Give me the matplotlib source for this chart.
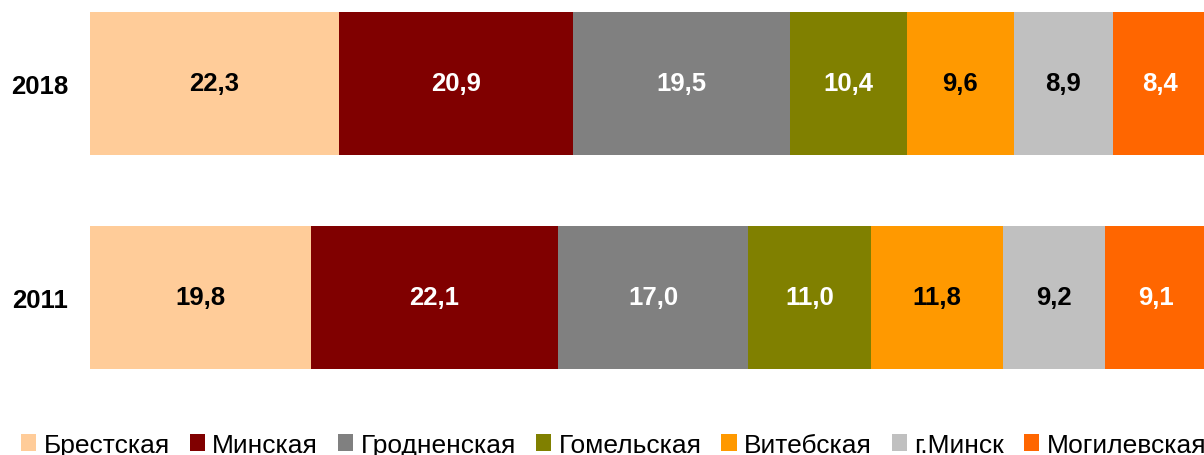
import matplotlib
matplotlib.use('Agg')
import matplotlib.pyplot as plt
import numpy as np

plt.rcParams['font.family'] = ['Liberation Sans', 'DejaVu Sans']

years = ['2011', '2018']
regions = ['Брестская', 'Минская', 'Гродненская', 'Гомельская',
           'Витебская', 'г.Минск', 'Могилевская']
v2011 = [19.8, 22.1, 17.0, 11.0, 11.8, 9.2, 9.1]
v2018 = [22.3, 20.9, 19.5, 10.4, 9.6, 8.9, 8.4]
colors = ['#FFCC99', '#800000', '#808080', '#808000',
          '#FF9900', '#C0C0C0', '#FF6600']
text_colors = ['black', 'white', 'white', 'white', 'black', 'black', 'white']

data = np.array([v2011, v2018])  # rows: years, cols: regions

fig = plt.figure(figsize=(12.04, 4.56), dpi=100)
W, H = 1204, 456
ax = fig.add_axes([90 / W, (H - 405.5) / H, 1117 / W, 428 / H])

y = np.arange(len(years))
left = np.zeros(len(years))
handles = []
for i, reg in enumerate(regions):
    vals = data[:, i]
    b = ax.barh(y, vals, left=left, height=0.668, color=colors[i], label=reg)
    handles.append(b)
    for j in range(len(years)):
        ax.text(left[j] + vals[j] / 2, y[j], f'{vals[j]:.1f}'.replace('.', ','),
                ha='center', va='center', fontsize=18.5, fontweight='bold',
                color=text_colors[i])
    left += vals

ax.set_xlim(0, 100)
ax.set_ylim(-0.5, 1.5)
ax.set_yticks(y)
ax.set_yticklabels(years, fontsize=18.5, fontweight='bold')
ax.tick_params(axis='y', length=0, pad=15.8)
ax.set_xticks([])
for s in ax.spines.values():
    s.set_visible(False)

fig.legend(handles=handles, labels=regions, loc='center left',
           bbox_to_anchor=(21 / W, 1 - 446 / H), ncol=7, frameon=False,
           fontsize=19, handlelength=0.58, handleheight=0.62,
           handletextpad=0.27, columnspacing=0.76, borderpad=0,
           borderaxespad=0)

fig.savefig('out.png', dpi=100)
